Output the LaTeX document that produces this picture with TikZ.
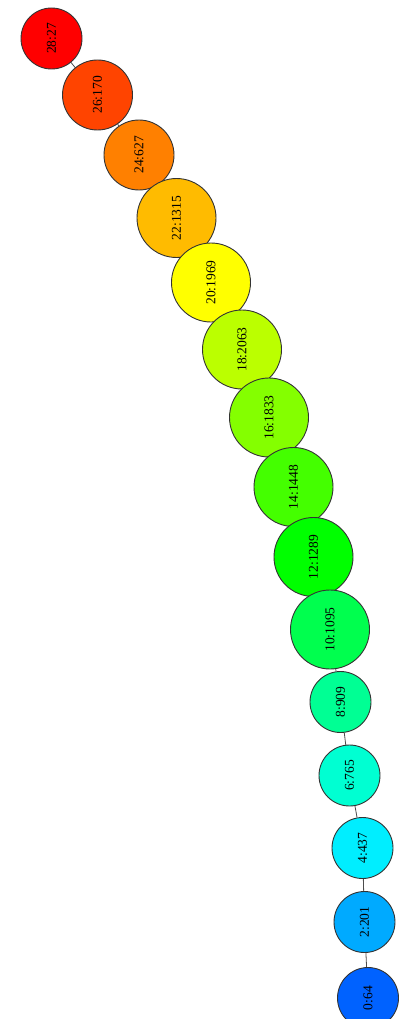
\documentclass[tikz,border=0pt]{standalone}
\usepackage{fontspec}
\setmainfont{Liberation Serif}
\usetikzlibrary{backgrounds}
\definecolor{c0}{HTML}{0062FF}
\definecolor{c2}{HTML}{00AAFF}
\definecolor{c4}{HTML}{00EEFF}
\definecolor{c6}{HTML}{00FFD2}
\definecolor{c8}{HTML}{00FF94}
\definecolor{c10}{HTML}{00FF4E}
\definecolor{c12}{HTML}{00FF00}
\definecolor{c14}{HTML}{44FF00}
\definecolor{c16}{HTML}{84FF00}
\definecolor{c18}{HTML}{BBFF00}
\definecolor{c20}{HTML}{FFFF00}
\definecolor{c22}{HTML}{FFBB00}
\definecolor{c24}{HTML}{FF8000}
\definecolor{c26}{HTML}{FF4400}
\definecolor{c28}{HTML}{FF0000}

\begin{document}
\begin{tikzpicture}[x=1pt,y=-1pt,
  n/.style={draw=black!80,circle,inner sep=0pt,line width=0.9pt,rotate=90,font=\fontsize{13.5}{14}\selectfont},
  s/.style={n,minimum size=61pt},
  m/.style={n,minimum size=70pt},
  l/.style={n,minimum size=79pt}]
\useasboundingbox (0,0) rectangle (403,1019);
\node[s,fill=c28] (n28) at (51.5,38.5) {28:27};
\node[m,fill=c26] (n26) at (97.5,95) {26:170};
\node[m,fill=c24] (n24) at (139,155) {24:627};
\node[l,fill=c22] (n22) at (176.5,218) {22:1315};
\node[l,fill=c20] (n20) at (211,282.5) {20:1969};
\node[l,fill=c18] (n18) at (242,349.5) {18:2063};
\node[l,fill=c16] (n16) at (269,417.5) {16:1833};
\node[l,fill=c14] (n14) at (293.5,487) {14:1448};
\node[l,fill=c12] (n12) at (313.5,557) {12:1289};
\node[l,fill=c10] (n10) at (330,629.5) {10:1095};
\node[s,fill=c8] (n8) at (340.5,702) {8:909};
\node[s,fill=c6] (n6) at (349.5,775.5) {6:765};
\node[s,fill=c4] (n4) at (362.5,848) {4:437};
\node[s,fill=c2] (n2) at (364.5,922) {2:201};
\node[s,fill=c0] (n0) at (368,998) {0:64};
\begin{scope}[on background layer]
\foreach \a/\b in {28/26,26/24,24/22,22/20,20/18,18/16,16/14,14/12,12/10,10/8,8/6,6/4,4/2,2/0}
  \draw[black!70,line width=0.8pt] (n\a) -- (n\b);
\end{scope}
\end{tikzpicture}
\end{document}
